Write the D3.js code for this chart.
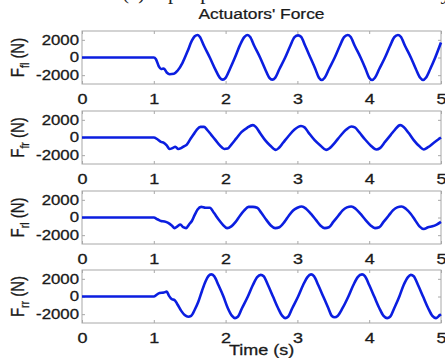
<!DOCTYPE html>
<html>
<head>
<meta charset="utf-8">
<script src="https://cdn.jsdelivr.net/npm/d3@7"></script>
<style>
  html,body{margin:0;padding:0;background:#fff;}
  svg{display:block;font-family:"Liberation Sans",Arial,Helvetica,sans-serif;}
</style>
</head>
<body>
<div id="chart"></div>
<script>
// Actuators' force, four corners, 0..5 s
const panelNames = ['fl','fr','rl','rr'];
const xTicks = [0,1,2,3,4,5];
const xTickLabels = ['0','1','2','3','4','5'];
const yTicks = [-2000,0,2000];
const yTickLabels = ['-2000','0','2000'];

const forceFL = [[0,0],[0.5,0],[1.0,0],[1.03,-200],[1.07,-1000],[1.10,-1300],[1.14,-1250],[1.18,-1700],[1.22,-1900],[1.28,-1850],[1.33,-1500],[1.40,-600],[1.47,700],[1.53,1900],[1.57,2400],[1.61,2550],[1.64,2350],[1.70,1300],[1.78,0],[1.86,-1400],[1.92,-2300],[1.96,-2500],[2.00,-2300],[2.06,-1300],[2.13,0],[2.20,1400],[2.26,2300],[2.30,2550],[2.34,2350],[2.40,1300],[2.48,0],[2.55,-1300],[2.61,-2300],[2.65,-2500],[2.69,-2300],[2.75,-1300],[2.83,0],[2.90,1300],[2.96,2300],[3.01,2500],[3.05,2350],[3.11,1300],[3.18,0],[3.25,-1300],[3.30,-2300],[3.34,-2550],[3.38,-2300],[3.44,-1300],[3.52,0],[3.59,1300],[3.65,2300],[3.70,2550],[3.74,2350],[3.80,1300],[3.88,0],[3.95,-1300],[4.00,-2300],[4.04,-2550],[4.08,-2300],[4.14,-1300],[4.22,0],[4.29,1300],[4.35,2300],[4.40,2550],[4.44,2350],[4.50,1300],[4.58,0],[4.65,-1300],[4.71,-2300],[4.75,-2550],[4.79,-2300],[4.85,-1300],[4.92,0],[5.0,1700]];

const forceFR = [[0,0],[0.5,0],[1.0,0],[1.05,-200],[1.10,-500],[1.14,-600],[1.18,-900],[1.22,-1300],[1.26,-1200],[1.30,-1050],[1.34,-1300],[1.38,-1200],[1.42,-1000],[1.46,-800],[1.50,-300],[1.55,300],[1.60,900],[1.65,1200],[1.70,1200],[1.74,900],[1.80,300],[1.86,-300],[1.92,-900],[1.98,-1300],[2.03,-1250],[2.08,-800],[2.15,-100],[2.22,600],[2.30,1100],[2.38,1400],[2.42,1200],[2.48,500],[2.55,-300],[2.62,-900],[2.70,-1400],[2.74,-1200],[2.80,-600],[2.88,200],[2.96,900],[3.05,1300],[3.10,1150],[3.16,500],[3.24,-300],[3.32,-900],[3.40,-1400],[3.45,-1200],[3.52,-600],[3.60,200],[3.68,900],[3.75,1250],[3.80,1150],[3.86,600],[3.94,-200],[4.02,-900],[4.10,-1350],[4.15,-1200],[4.22,-500],[4.30,300],[4.36,900],[4.43,1400],[4.48,1200],[4.55,500],[4.62,-300],[4.70,-1000],[4.76,-1350],[4.82,-1100],[4.90,-600],[5.0,0]];

const forceRL = [[0,0],[0.5,0],[1.0,0],[1.05,-200],[1.10,-400],[1.15,-450],[1.20,-600],[1.25,-900],[1.29,-1200],[1.33,-1000],[1.37,-800],[1.41,-1100],[1.45,-1200],[1.49,-800],[1.53,-400],[1.57,300],[1.61,900],[1.66,1200],[1.72,1100],[1.78,1100],[1.84,500],[1.90,-200],[1.96,-800],[2.02,-1200],[2.08,-1000],[2.14,-500],[2.20,200],[2.26,800],[2.32,1200],[2.38,1200],[2.44,1100],[2.50,500],[2.57,-300],[2.63,-900],[2.69,-1200],[2.75,-1100],[2.82,-500],[2.88,200],[2.94,800],[3.00,1100],[3.06,1250],[3.12,1000],[3.19,400],[3.26,-300],[3.32,-900],[3.38,-1200],[3.44,-1100],[3.50,-500],[3.57,200],[3.63,800],[3.69,1150],[3.75,1250],[3.81,1000],[3.88,400],[3.95,-300],[4.02,-900],[4.08,-1200],[4.14,-1100],[4.20,-500],[4.27,200],[4.33,800],[4.39,1150],[4.45,1250],[4.51,1000],[4.58,400],[4.64,-300],[4.70,-1000],[4.76,-1300],[4.82,-1100],[4.88,-1000],[4.94,-800],[5.0,-500]];

const forceRR = [[0,0],[0.5,0],[1.0,0],[1.04,200],[1.08,400],[1.14,450],[1.18,550],[1.21,100],[1.25,-300],[1.29,-400],[1.33,-900],[1.38,-1600],[1.43,-2100],[1.48,-2300],[1.52,-2200],[1.57,-1500],[1.62,-600],[1.67,600],[1.72,1700],[1.76,2300],[1.80,2500],[1.84,2300],[1.90,1300],[1.97,0],[2.03,-1300],[2.09,-2200],[2.13,-2450],[2.17,-2300],[2.23,-1300],[2.31,0],[2.38,1300],[2.44,2200],[2.49,2450],[2.53,2300],[2.59,1300],[2.66,0],[2.73,-1300],[2.79,-2200],[2.83,-2450],[2.87,-2300],[2.93,-1300],[3.01,0],[3.08,1300],[3.14,2200],[3.19,2500],[3.23,2300],[3.29,1300],[3.36,0],[3.43,-1300],[3.48,-2200],[3.52,-2350],[3.56,-2200],[3.63,-1300],[3.71,0],[3.78,1300],[3.84,2200],[3.90,2500],[3.94,2300],[4.00,1300],[4.07,0],[4.14,-1300],[4.20,-2200],[4.25,-2450],[4.29,-2300],[4.35,-1300],[4.42,0],[4.48,1300],[4.54,2200],[4.58,2450],[4.62,2300],[4.68,1300],[4.75,0],[4.82,-1300],[4.88,-2200],[4.93,-2450],[4.97,-2200],[5.0,-2000]];

const series = [forceFL, forceFR, forceRL, forceRR];

const W=445, H=358;
const left=82, right=441, ph=53;
const tops=[31,111,191,270];
const lineCol='#0b1ee0', boxCol='#a8a8a8', txtCol='#1a1a1a';
const SX=1.2;   // source figure is stretched sideways

const svg=d3.select('#chart').append('svg').attr('width',W).attr('height',H);

// stretch a text sideways around its own x
function wide(sel){
  sel.each(function(){
    const t=d3.select(this), x0=+t.attr('x')||0;
    t.attr('x',x0/SX).attr('transform',`scale(${SX},1)`);
  });
  return sel;
}

// caption of the figure above, cut off by the crop
svg.append('text').attr('x',122).attr('y',-1)
   .attr('font-family','"Liberation Serif","Times New Roman",serif').attr('font-size',21)
   .attr('fill','#222').text('(c) Input profile and the actuators body');

svg.append('text').attr('x',(left+right)/2).attr('y',19).attr('text-anchor','middle')
   .attr('font-size',14.5).attr('fill',txtCol).attr('stroke',txtCol).attr('stroke-width',0.25)
   .text("Actuators' Force").call(wide);

const x=d3.scaleLinear().domain([0,5]).range([left,right]);

series.forEach((data,i)=>{
  const y=d3.scaleLinear().domain([-3000,3000]).range([tops[i]+ph,tops[i]]);
  const g=svg.append('g');

  // inner ticks, MATLAB-style on all four sides
  g.append('g').attr('transform',`translate(0,${tops[i]+ph})`)
   .call(d3.axisBottom(x).tickValues(xTicks).tickSize(-3).tickPadding(9).tickFormat((d,k)=>xTickLabels[k]))
   .call(a=>{a.select('.domain').remove();a.selectAll('line').attr('stroke',boxCol);
     a.selectAll('text').attr('font-size',15).attr('fill',txtCol).attr('stroke',txtCol).attr('stroke-width',0.3)
      .attr('font-family','"Liberation Sans",Arial,sans-serif').call(wide);});
  g.append('g').attr('transform',`translate(0,${tops[i]})`)
   .call(d3.axisTop(x).tickValues(xTicks).tickSize(-3).tickFormat(''))
   .call(a=>{a.select('.domain').remove();a.selectAll('line').attr('stroke',boxCol);});
  g.append('g').attr('transform',`translate(${left},0)`)
   .call(d3.axisLeft(y).tickValues(yTicks).tickSize(-3).tickPadding(3).tickFormat((d,k)=>yTickLabels[k]))
   .call(a=>{a.select('.domain').remove();a.selectAll('line').attr('stroke',boxCol);
     a.selectAll('text').attr('font-size',14).attr('fill',txtCol).attr('stroke',txtCol).attr('stroke-width',0.3)
      .attr('font-family','"Liberation Sans",Arial,sans-serif').call(wide);});
  g.append('g').attr('transform',`translate(${right},0)`)
   .call(d3.axisRight(y).tickValues(yTicks).tickSize(-3).tickFormat(''))
   .call(a=>{a.select('.domain').remove();a.selectAll('line').attr('stroke',boxCol);});

  g.append('rect').attr('x',left).attr('y',tops[i]).attr('width',right-left).attr('height',ph)
   .attr('fill','none').attr('stroke',boxCol).attr('stroke-width',1);

  const line=d3.line().x(d=>x(d[0])).y(d=>y(d[1])).curve(d3.curveMonotoneX);
  g.append('path').datum(data).attr('d',line).attr('fill','none')
   .attr('stroke',lineCol).attr('stroke-width',2.6).attr('stroke-linejoin','round');

  // y label: F with subscript
  const lab=g.append('text').attr('transform',`translate(24,${tops[i]+ph/2}) scale(${SX},1) rotate(-90)`)
   .attr('text-anchor','middle').attr('font-size',15).attr('fill',txtCol)
   .attr('stroke',txtCol).attr('stroke-width',0.25);
  lab.append('tspan').text('F');
  lab.append('tspan').attr('font-size',10.5).attr('dy',4).text(panelNames[i]);
  lab.append('tspan').attr('dy',-4).text(' (N)');
});

svg.append('text').attr('x',(left+right)/2).attr('y',355).attr('text-anchor','middle')
   .attr('font-size',15).attr('fill',txtCol).attr('stroke',txtCol).attr('stroke-width',0.3)
   .text('Time (s)').call(wide);
</script>
</body>
</html>
